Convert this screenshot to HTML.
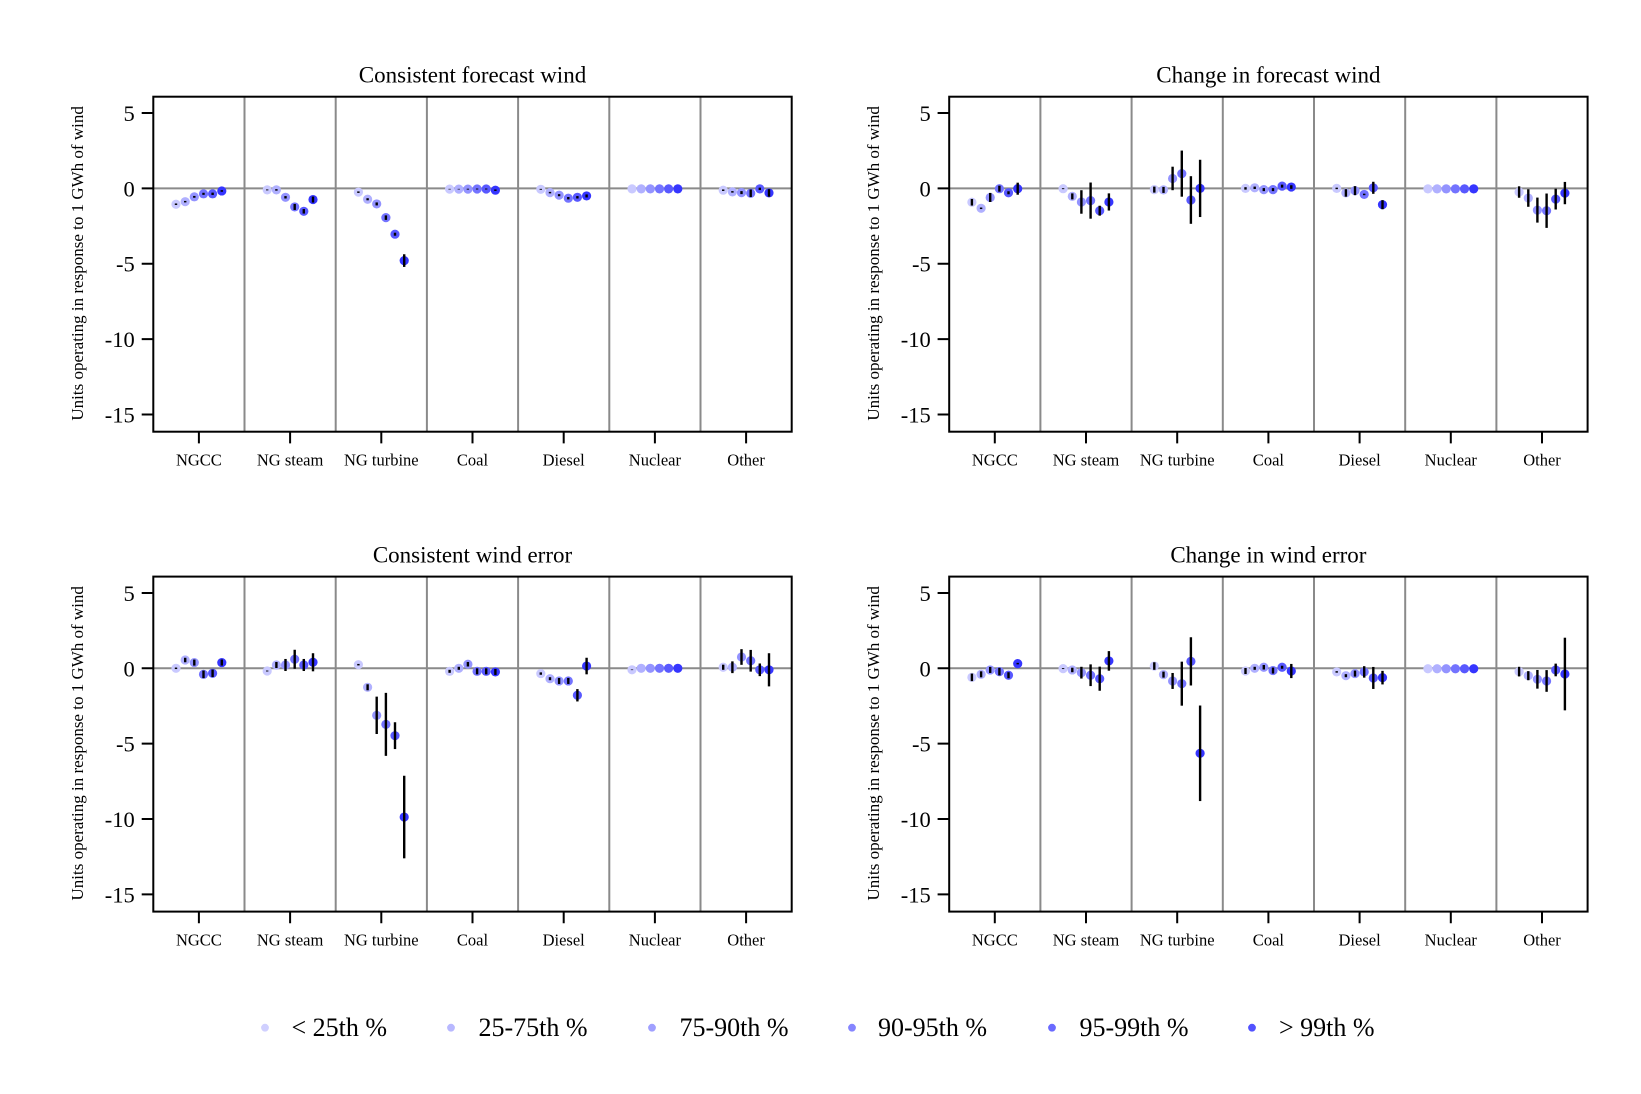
<!DOCTYPE html>
<html><head><meta charset="utf-8"><style>
html,body{margin:0;padding:0;background:#fff;}
svg{display:block;}
text{font-family:"Liberation Serif","Times New Roman",serif;fill:#000;}
.c1{fill:#c9c9ff}.c2{fill:#b0b0ff}.c3{fill:#9393ff}.c4{fill:#7373ff}.c5{fill:#5858ff}.c6{fill:#3535ff}
.yt{font-size:22.5px;text-anchor:end}
.xt{font-size:16.5px;text-anchor:middle}
.ti{font-size:23px;text-anchor:middle}
.yl{font-size:17px;text-anchor:middle}
.lg{font-size:26px}
</style></head><body>
<svg width="1641" height="1094" viewBox="0 0 1641 1094" xmlns="http://www.w3.org/2000/svg">
<rect width="1641" height="1094" fill="#fff"/>
<defs>
<g id="grid">
<path d="M0 0H638.4M91.2 -91.7V243.3M182.4 -91.7V243.3M273.6 -91.7V243.3M364.8 -91.7V243.3M456 -91.7V243.3M547.2 -91.7V243.3" stroke="#8a8a8a" stroke-width="2" fill="none"/>
</g>
<g id="box">
<rect x="0" y="-91.7" width="638.4" height="335" fill="none" stroke="#000" stroke-width="2"/>
<path d="M-11.6 -75.35H0M-11.6 0H0M-11.6 75.35H0M-11.6 150.7H0M-11.6 226.05H0M45.6 243.3V255M136.8 243.3V255M228 243.3V255M319.2 243.3V255M410.4 243.3V255M501.6 243.3V255M592.8 243.3V255" stroke="#000" stroke-width="2" fill="none"/>
</g>
</defs>

<!-- Panel 1 -->
<g transform="translate(153.3,188.4)">
<use href="#grid"/>
<g transform="scale(1,-15.07)">
<ellipse class="c1" cx="22.7" cy="-1.05" rx="4.6" ry="0.305"/><ellipse class="c2" cx="31.9" cy="-0.88" rx="4.6" ry="0.305"/><ellipse class="c3" cx="41.0" cy="-0.56" rx="4.6" ry="0.305"/><ellipse class="c4" cx="50.2" cy="-0.36" rx="4.6" ry="0.305"/><ellipse class="c5" cx="59.3" cy="-0.36" rx="4.6" ry="0.305"/><ellipse class="c6" cx="68.5" cy="-0.17" rx="4.6" ry="0.305"/>
<ellipse class="c1" cx="113.9" cy="-0.1" rx="4.6" ry="0.305"/><ellipse class="c2" cx="123.1" cy="-0.1" rx="4.6" ry="0.305"/><ellipse class="c3" cx="132.2" cy="-0.59" rx="4.6" ry="0.305"/><ellipse class="c4" cx="141.4" cy="-1.23" rx="4.6" ry="0.305"/><ellipse class="c5" cx="150.5" cy="-1.52" rx="4.6" ry="0.305"/><ellipse class="c6" cx="159.7" cy="-0.74" rx="4.6" ry="0.305"/>
<ellipse class="c1" cx="205.1" cy="-0.25" rx="4.6" ry="0.305"/><ellipse class="c2" cx="214.3" cy="-0.72" rx="4.6" ry="0.305"/><ellipse class="c3" cx="223.4" cy="-1.03" rx="4.6" ry="0.305"/><ellipse class="c4" cx="232.6" cy="-1.94" rx="4.6" ry="0.305"/><ellipse class="c5" cx="241.7" cy="-3.04" rx="4.6" ry="0.305"/><ellipse class="c6" cx="250.9" cy="-4.79" rx="4.6" ry="0.305"/>
<ellipse class="c1" cx="296.3" cy="-0.05" rx="4.6" ry="0.305"/><ellipse class="c2" cx="305.5" cy="-0.05" rx="4.6" ry="0.305"/><ellipse class="c3" cx="314.6" cy="-0.05" rx="4.6" ry="0.305"/><ellipse class="c4" cx="323.8" cy="-0.04" rx="4.6" ry="0.305"/><ellipse class="c5" cx="332.9" cy="-0.04" rx="4.6" ry="0.305"/><ellipse class="c6" cx="342.1" cy="-0.12" rx="4.6" ry="0.305"/>
<ellipse class="c1" cx="387.5" cy="-0.06" rx="4.6" ry="0.305"/><ellipse class="c2" cx="396.7" cy="-0.28" rx="4.6" ry="0.305"/><ellipse class="c3" cx="405.8" cy="-0.45" rx="4.6" ry="0.305"/><ellipse class="c4" cx="415.0" cy="-0.65" rx="4.6" ry="0.305"/><ellipse class="c5" cx="424.1" cy="-0.59" rx="4.6" ry="0.305"/><ellipse class="c6" cx="433.3" cy="-0.5" rx="4.6" ry="0.305"/>
<ellipse class="c1" cx="478.7" cy="-0.03" rx="4.6" ry="0.305"/><ellipse class="c2" cx="487.9" cy="-0.03" rx="4.6" ry="0.305"/><ellipse class="c3" cx="497.0" cy="-0.03" rx="4.6" ry="0.305"/><ellipse class="c4" cx="506.2" cy="-0.03" rx="4.6" ry="0.305"/><ellipse class="c5" cx="515.3" cy="-0.03" rx="4.6" ry="0.305"/><ellipse class="c6" cx="524.5" cy="-0.03" rx="4.6" ry="0.305"/>
<ellipse class="c1" cx="569.9" cy="-0.12" rx="4.6" ry="0.305"/><ellipse class="c2" cx="579.1" cy="-0.23" rx="4.6" ry="0.305"/><ellipse class="c3" cx="588.2" cy="-0.28" rx="4.6" ry="0.305"/><ellipse class="c4" cx="597.4" cy="-0.32" rx="4.6" ry="0.305"/><ellipse class="c5" cx="606.5" cy="-0.03" rx="4.6" ry="0.305"/><ellipse class="c6" cx="615.7" cy="-0.3" rx="4.6" ry="0.305"/>
<g fill="#000">
<rect x="21.5" y="-1.10" width="2.4" height="0.10"/><rect x="30.7" y="-0.93" width="2.4" height="0.10"/><rect x="39.8" y="-0.62" width="2.4" height="0.12"/><rect x="49.0" y="-0.43" width="2.4" height="0.14"/><rect x="58.1" y="-0.44" width="2.4" height="0.16"/><rect x="67.3" y="-0.22" width="2.4" height="0.10"/>
<rect x="112.7" y="-0.13" width="2.4" height="0.06"/><rect x="121.9" y="-0.15" width="2.4" height="0.10"/><rect x="131.0" y="-0.67" width="2.4" height="0.16"/><rect x="140.2" y="-1.43" width="2.4" height="0.4"/><rect x="149.3" y="-1.67" width="2.4" height="0.3"/><rect x="158.5" y="-0.94" width="2.4" height="0.4"/>
<rect x="203.9" y="-0.30" width="2.4" height="0.1"/><rect x="213.1" y="-0.79" width="2.4" height="0.14"/><rect x="222.2" y="-1.13" width="2.4" height="0.2"/><rect x="231.4" y="-2.09" width="2.4" height="0.3"/><rect x="240.5" y="-3.14" width="2.4" height="0.2"/><rect x="249.7" y="-5.21" width="2.4" height="0.84"/>
<rect x="295.1" y="-0.07" width="2.4" height="0.04"/><rect x="304.3" y="-0.07" width="2.4" height="0.04"/><rect x="313.4" y="-0.08" width="2.4" height="0.06"/><rect x="322.6" y="-0.07" width="2.4" height="0.06"/><rect x="331.7" y="-0.07" width="2.4" height="0.06"/><rect x="340.9" y="-0.17" width="2.4" height="0.1"/>
<rect x="386.3" y="-0.09" width="2.4" height="0.06"/><rect x="395.5" y="-0.33" width="2.4" height="0.1"/><rect x="404.6" y="-0.52" width="2.4" height="0.14"/><rect x="413.8" y="-0.73" width="2.4" height="0.16"/><rect x="422.9" y="-0.67" width="2.4" height="0.16"/><rect x="432.1" y="-0.6" width="2.4" height="0.2"/>
<rect x="568.7" y="-0.17" width="2.4" height="0.1"/><rect x="577.9" y="-0.28" width="2.4" height="0.1"/><rect x="587.0" y="-0.38" width="2.4" height="0.2"/><rect x="596.2" y="-0.57" width="2.4" height="0.5"/><rect x="605.3" y="-0.11" width="2.4" height="0.16"/><rect x="614.5" y="-0.55" width="2.4" height="0.5"/>
</g>
</g>
<use href="#box"/>
<text class="yt" x="-18.5" y="-67.35">5</text><text class="yt" x="-18.5" y="8">0</text><text class="yt" x="-18.5" y="83.35">-5</text><text class="yt" x="-18.5" y="158.7">-10</text><text class="yt" x="-18.5" y="234.05">-15</text>
<text class="xt" x="45.6" y="277.3">NGCC</text><text class="xt" x="136.8" y="277.3">NG steam</text><text class="xt" x="228" y="277.3">NG turbine</text><text class="xt" x="319.2" y="277.3">Coal</text><text class="xt" x="410.4" y="277.3">Diesel</text><text class="xt" x="501.6" y="277.3">Nuclear</text><text class="xt" x="592.8" y="277.3">Other</text>
<text class="ti" x="319.2" y="-105.9">Consistent forecast wind</text>
<text class="yl" transform="translate(-70.3,75) rotate(-90)">Units operating in response to 1 GWh of wind</text>
</g>

<!-- Panel 2 -->
<g transform="translate(949.2,188.4)">
<use href="#grid"/>
<g transform="scale(1,-15.07)">
<ellipse class="c1" cx="22.7" cy="-0.92" rx="4.6" ry="0.305"/><ellipse class="c2" cx="31.9" cy="-1.32" rx="4.6" ry="0.305"/><ellipse class="c3" cx="41.0" cy="-0.6" rx="4.6" ry="0.305"/><ellipse class="c4" cx="50.2" cy="-0.02" rx="4.6" ry="0.305"/><ellipse class="c5" cx="59.3" cy="-0.29" rx="4.6" ry="0.305"/><ellipse class="c6" cx="68.5" cy="-0.02" rx="4.6" ry="0.305"/>
<ellipse class="c1" cx="113.9" cy="-0.02" rx="4.6" ry="0.305"/><ellipse class="c2" cx="123.1" cy="-0.53" rx="4.6" ry="0.305"/><ellipse class="c3" cx="132.2" cy="-0.9" rx="4.6" ry="0.305"/><ellipse class="c4" cx="141.4" cy="-0.81" rx="4.6" ry="0.305"/><ellipse class="c5" cx="150.5" cy="-1.48" rx="4.6" ry="0.305"/><ellipse class="c6" cx="159.7" cy="-0.9" rx="4.6" ry="0.305"/>
<ellipse class="c1" cx="205.1" cy="-0.08" rx="4.6" ry="0.305"/><ellipse class="c2" cx="214.3" cy="-0.1" rx="4.6" ry="0.305"/><ellipse class="c3" cx="223.4" cy="0.66" rx="4.6" ry="0.305"/><ellipse class="c4" cx="232.6" cy="0.98" rx="4.6" ry="0.305"/><ellipse class="c5" cx="241.7" cy="-0.77" rx="4.6" ry="0.305"/><ellipse class="c6" cx="250.9" cy="0" rx="4.6" ry="0.305"/>
<ellipse class="c1" cx="296.3" cy="0" rx="4.6" ry="0.305"/><ellipse class="c2" cx="305.5" cy="0.04" rx="4.6" ry="0.305"/><ellipse class="c3" cx="314.6" cy="-0.08" rx="4.6" ry="0.305"/><ellipse class="c4" cx="323.8" cy="-0.08" rx="4.6" ry="0.305"/><ellipse class="c5" cx="332.9" cy="0.15" rx="4.6" ry="0.305"/><ellipse class="c6" cx="342.1" cy="0.09" rx="4.6" ry="0.305"/>
<ellipse class="c1" cx="387.5" cy="0" rx="4.6" ry="0.305"/><ellipse class="c2" cx="396.7" cy="-0.3" rx="4.6" ry="0.305"/><ellipse class="c3" cx="405.8" cy="-0.15" rx="4.6" ry="0.305"/><ellipse class="c4" cx="415.0" cy="-0.4" rx="4.6" ry="0.305"/><ellipse class="c5" cx="424.1" cy="0.04" rx="4.6" ry="0.305"/><ellipse class="c6" cx="433.3" cy="-1.08" rx="4.6" ry="0.305"/>
<ellipse class="c1" cx="478.7" cy="-0.03" rx="4.6" ry="0.305"/><ellipse class="c2" cx="487.9" cy="-0.03" rx="4.6" ry="0.305"/><ellipse class="c3" cx="497.0" cy="-0.03" rx="4.6" ry="0.305"/><ellipse class="c4" cx="506.2" cy="-0.03" rx="4.6" ry="0.305"/><ellipse class="c5" cx="515.3" cy="-0.03" rx="4.6" ry="0.305"/><ellipse class="c6" cx="524.5" cy="-0.03" rx="4.6" ry="0.305"/>
<ellipse class="c1" cx="569.9" cy="-0.24" rx="4.6" ry="0.305"/><ellipse class="c2" cx="579.1" cy="-0.64" rx="4.6" ry="0.305"/><ellipse class="c3" cx="588.2" cy="-1.44" rx="4.6" ry="0.305"/><ellipse class="c4" cx="597.4" cy="-1.48" rx="4.6" ry="0.305"/><ellipse class="c5" cx="606.5" cy="-0.71" rx="4.6" ry="0.305"/><ellipse class="c6" cx="615.7" cy="-0.31" rx="4.6" ry="0.305"/>
<g fill="#000">
<rect x="21.5" y="-1.14" width="2.4" height="0.44"/><rect x="30.7" y="-1.37" width="2.4" height="0.1"/><rect x="39.8" y="-0.9" width="2.4" height="0.6"/><rect x="49.0" y="-0.22" width="2.4" height="0.4"/><rect x="58.1" y="-0.39" width="2.4" height="0.2"/><rect x="67.3" y="-0.42" width="2.4" height="0.8"/>
<rect x="112.7" y="-0.05" width="2.4" height="0.06"/><rect x="121.9" y="-0.73" width="2.4" height="0.4"/><rect x="131.0" y="-1.68" width="2.4" height="1.56"/><rect x="140.2" y="-2.01" width="2.4" height="2.4"/><rect x="149.3" y="-1.81" width="2.4" height="0.66"/><rect x="158.5" y="-1.47" width="2.4" height="1.14"/>
<rect x="203.9" y="-0.28" width="2.4" height="0.4"/><rect x="213.1" y="-0.3" width="2.4" height="0.4"/><rect x="222.2" y="-0.12" width="2.4" height="1.56"/><rect x="231.4" y="-0.55" width="2.4" height="3.06"/><rect x="240.5" y="-2.35" width="2.4" height="3.16"/><rect x="249.7" y="-1.9" width="2.4" height="3.8"/>
<rect x="295.1" y="-0.08" width="2.4" height="0.16"/><rect x="304.3" y="-0.04" width="2.4" height="0.16"/><rect x="313.4" y="-0.18" width="2.4" height="0.2"/><rect x="322.6" y="-0.18" width="2.4" height="0.2"/><rect x="331.7" y="0.05" width="2.4" height="0.2"/><rect x="340.9" y="-0.03" width="2.4" height="0.24"/>
<rect x="386.3" y="-0.05" width="2.4" height="0.1"/><rect x="395.5" y="-0.55" width="2.4" height="0.5"/><rect x="404.6" y="-0.45" width="2.4" height="0.6"/><rect x="413.8" y="-0.45" width="2.4" height="0.1"/><rect x="422.9" y="-0.36" width="2.4" height="0.8"/><rect x="432.1" y="-1.38" width="2.4" height="0.6"/>
<rect x="568.7" y="-0.62" width="2.4" height="0.76"/><rect x="577.9" y="-1.22" width="2.4" height="1.16"/><rect x="587.0" y="-2.27" width="2.4" height="1.66"/><rect x="596.2" y="-2.62" width="2.4" height="2.28"/><rect x="605.3" y="-1.4" width="2.4" height="1.38"/><rect x="614.5" y="-1.05" width="2.4" height="1.48"/>
</g>
</g>
<use href="#box"/>
<text class="yt" x="-18.5" y="-67.35">5</text><text class="yt" x="-18.5" y="8">0</text><text class="yt" x="-18.5" y="83.35">-5</text><text class="yt" x="-18.5" y="158.7">-10</text><text class="yt" x="-18.5" y="234.05">-15</text>
<text class="xt" x="45.6" y="277.3">NGCC</text><text class="xt" x="136.8" y="277.3">NG steam</text><text class="xt" x="228" y="277.3">NG turbine</text><text class="xt" x="319.2" y="277.3">Coal</text><text class="xt" x="410.4" y="277.3">Diesel</text><text class="xt" x="501.6" y="277.3">Nuclear</text><text class="xt" x="592.8" y="277.3">Other</text>
<text class="ti" x="319.2" y="-105.9">Change in forecast wind</text>
<text class="yl" transform="translate(-70.3,75) rotate(-90)">Units operating in response to 1 GWh of wind</text>
</g>

<!-- Panel 3 -->
<g transform="translate(153.3,668.3)">
<use href="#grid"/>
<g transform="scale(1,-15.07)">
<ellipse class="c1" cx="22.7" cy="0" rx="4.6" ry="0.305"/><ellipse class="c2" cx="31.9" cy="0.55" rx="4.6" ry="0.305"/><ellipse class="c3" cx="41.0" cy="0.38" rx="4.6" ry="0.305"/><ellipse class="c4" cx="50.2" cy="-0.4" rx="4.6" ry="0.305"/><ellipse class="c5" cx="59.3" cy="-0.33" rx="4.6" ry="0.305"/><ellipse class="c6" cx="68.5" cy="0.38" rx="4.6" ry="0.305"/>
<ellipse class="c1" cx="113.9" cy="-0.18" rx="4.6" ry="0.305"/><ellipse class="c2" cx="123.1" cy="0.22" rx="4.6" ry="0.305"/><ellipse class="c3" cx="132.2" cy="0.22" rx="4.6" ry="0.305"/><ellipse class="c4" cx="141.4" cy="0.6" rx="4.6" ry="0.305"/><ellipse class="c5" cx="150.5" cy="0.22" rx="4.6" ry="0.305"/><ellipse class="c6" cx="159.7" cy="0.4" rx="4.6" ry="0.305"/>
<ellipse class="c1" cx="205.1" cy="0.24" rx="4.6" ry="0.305"/><ellipse class="c2" cx="214.3" cy="-1.26" rx="4.6" ry="0.305"/><ellipse class="c3" cx="223.4" cy="-3.12" rx="4.6" ry="0.305"/><ellipse class="c4" cx="232.6" cy="-3.72" rx="4.6" ry="0.305"/><ellipse class="c5" cx="241.7" cy="-4.47" rx="4.6" ry="0.305"/><ellipse class="c6" cx="250.9" cy="-9.87" rx="4.6" ry="0.305"/>
<ellipse class="c1" cx="296.3" cy="-0.2" rx="4.6" ry="0.305"/><ellipse class="c2" cx="305.5" cy="0" rx="4.6" ry="0.305"/><ellipse class="c3" cx="314.6" cy="0.27" rx="4.6" ry="0.305"/><ellipse class="c4" cx="323.8" cy="-0.2" rx="4.6" ry="0.305"/><ellipse class="c5" cx="332.9" cy="-0.2" rx="4.6" ry="0.305"/><ellipse class="c6" cx="342.1" cy="-0.24" rx="4.6" ry="0.305"/>
<ellipse class="c1" cx="387.5" cy="-0.35" rx="4.6" ry="0.305"/><ellipse class="c2" cx="396.7" cy="-0.69" rx="4.6" ry="0.305"/><ellipse class="c3" cx="405.8" cy="-0.84" rx="4.6" ry="0.305"/><ellipse class="c4" cx="415.0" cy="-0.84" rx="4.6" ry="0.305"/><ellipse class="c5" cx="424.1" cy="-1.79" rx="4.6" ry="0.305"/><ellipse class="c6" cx="433.3" cy="0.15" rx="4.6" ry="0.305"/>
<ellipse class="c1" cx="478.7" cy="-0.1" rx="4.6" ry="0.305"/><ellipse class="c2" cx="487.9" cy="0" rx="4.6" ry="0.305"/><ellipse class="c3" cx="497.0" cy="0" rx="4.6" ry="0.305"/><ellipse class="c4" cx="506.2" cy="0" rx="4.6" ry="0.305"/><ellipse class="c5" cx="515.3" cy="0" rx="4.6" ry="0.305"/><ellipse class="c6" cx="524.5" cy="0" rx="4.6" ry="0.305"/>
<ellipse class="c1" cx="569.9" cy="0.07" rx="4.6" ry="0.305"/><ellipse class="c2" cx="579.1" cy="0.07" rx="4.6" ry="0.305"/><ellipse class="c3" cx="588.2" cy="0.75" rx="4.6" ry="0.305"/><ellipse class="c4" cx="597.4" cy="0.5" rx="4.6" ry="0.305"/><ellipse class="c5" cx="606.5" cy="-0.1" rx="4.6" ry="0.305"/><ellipse class="c6" cx="615.7" cy="-0.1" rx="4.6" ry="0.305"/>
<g fill="#000">
<rect x="21.5" y="-0.05" width="2.4" height="0.1"/><rect x="30.7" y="0.4" width="2.4" height="0.3"/><rect x="39.8" y="0.18" width="2.4" height="0.4"/><rect x="49.0" y="-0.65" width="2.4" height="0.5"/><rect x="58.1" y="-0.58" width="2.4" height="0.5"/><rect x="67.3" y="0.18" width="2.4" height="0.4"/>
<rect x="112.7" y="-0.21" width="2.4" height="0.06"/><rect x="121.9" y="0.02" width="2.4" height="0.4"/><rect x="131.0" y="-0.18" width="2.4" height="0.8"/><rect x="140.2" y="-0.03" width="2.4" height="1.26"/><rect x="149.3" y="-0.18" width="2.4" height="0.8"/><rect x="158.5" y="-0.2" width="2.4" height="1.2"/>
<rect x="203.9" y="0.19" width="2.4" height="0.1"/><rect x="213.1" y="-1.46" width="2.4" height="0.4"/><rect x="222.2" y="-4.36" width="2.4" height="2.48"/><rect x="231.4" y="-5.81" width="2.4" height="4.18"/><rect x="240.5" y="-5.36" width="2.4" height="1.78"/><rect x="249.7" y="-12.61" width="2.4" height="5.48"/>
<rect x="295.1" y="-0.3" width="2.4" height="0.2"/><rect x="304.3" y="-0.1" width="2.4" height="0.2"/><rect x="313.4" y="0.12" width="2.4" height="0.3"/><rect x="322.6" y="-0.4" width="2.4" height="0.4"/><rect x="331.7" y="-0.4" width="2.4" height="0.4"/><rect x="340.9" y="-0.44" width="2.4" height="0.4"/>
<rect x="386.3" y="-0.43" width="2.4" height="0.16"/><rect x="395.5" y="-0.79" width="2.4" height="0.2"/><rect x="404.6" y="-1.04" width="2.4" height="0.4"/><rect x="413.8" y="-1.04" width="2.4" height="0.4"/><rect x="422.9" y="-2.2" width="2.4" height="0.82"/><rect x="432.1" y="-0.4" width="2.4" height="1.1"/>
<rect x="477.5" y="-0.12" width="2.4" height="0.04"/>
<rect x="568.7" y="-0.1" width="2.4" height="0.34"/><rect x="577.9" y="-0.32" width="2.4" height="0.78"/><rect x="587.0" y="0.23" width="2.4" height="1.04"/><rect x="596.2" y="-0.22" width="2.4" height="1.44"/><rect x="605.3" y="-0.52" width="2.4" height="0.84"/><rect x="614.5" y="-1.2" width="2.4" height="2.2"/>
</g>
</g>
<use href="#box"/>
<text class="yt" x="-18.5" y="-67.35">5</text><text class="yt" x="-18.5" y="8">0</text><text class="yt" x="-18.5" y="83.35">-5</text><text class="yt" x="-18.5" y="158.7">-10</text><text class="yt" x="-18.5" y="234.05">-15</text>
<text class="xt" x="45.6" y="277.3">NGCC</text><text class="xt" x="136.8" y="277.3">NG steam</text><text class="xt" x="228" y="277.3">NG turbine</text><text class="xt" x="319.2" y="277.3">Coal</text><text class="xt" x="410.4" y="277.3">Diesel</text><text class="xt" x="501.6" y="277.3">Nuclear</text><text class="xt" x="592.8" y="277.3">Other</text>
<text class="ti" x="319.2" y="-105.9">Consistent wind error</text>
<text class="yl" transform="translate(-70.3,75) rotate(-90)">Units operating in response to 1 GWh of wind</text>
</g>

<!-- Panel 4 -->
<g transform="translate(949.2,668.3)">
<use href="#grid"/>
<g transform="scale(1,-15.07)">
<ellipse class="c1" cx="22.7" cy="-0.6" rx="4.6" ry="0.305"/><ellipse class="c2" cx="31.9" cy="-0.4" rx="4.6" ry="0.305"/><ellipse class="c3" cx="41.0" cy="-0.11" rx="4.6" ry="0.305"/><ellipse class="c4" cx="50.2" cy="-0.22" rx="4.6" ry="0.305"/><ellipse class="c5" cx="59.3" cy="-0.46" rx="4.6" ry="0.305"/><ellipse class="c6" cx="68.5" cy="0.31" rx="4.6" ry="0.305"/>
<ellipse class="c1" cx="113.9" cy="-0.02" rx="4.6" ry="0.305"/><ellipse class="c2" cx="123.1" cy="-0.11" rx="4.6" ry="0.305"/><ellipse class="c3" cx="132.2" cy="-0.29" rx="4.6" ry="0.305"/><ellipse class="c4" cx="141.4" cy="-0.46" rx="4.6" ry="0.305"/><ellipse class="c5" cx="150.5" cy="-0.69" rx="4.6" ry="0.305"/><ellipse class="c6" cx="159.7" cy="0.49" rx="4.6" ry="0.305"/>
<ellipse class="c1" cx="205.1" cy="0.15" rx="4.6" ry="0.305"/><ellipse class="c2" cx="214.3" cy="-0.42" rx="4.6" ry="0.305"/><ellipse class="c3" cx="223.4" cy="-0.84" rx="4.6" ry="0.305"/><ellipse class="c4" cx="232.6" cy="-1.02" rx="4.6" ry="0.305"/><ellipse class="c5" cx="241.7" cy="0.46" rx="4.6" ry="0.305"/><ellipse class="c6" cx="250.9" cy="-5.64" rx="4.6" ry="0.305"/>
<ellipse class="c1" cx="296.3" cy="-0.18" rx="4.6" ry="0.305"/><ellipse class="c2" cx="305.5" cy="0" rx="4.6" ry="0.305"/><ellipse class="c3" cx="314.6" cy="0.07" rx="4.6" ry="0.305"/><ellipse class="c4" cx="323.8" cy="-0.15" rx="4.6" ry="0.305"/><ellipse class="c5" cx="332.9" cy="0.07" rx="4.6" ry="0.305"/><ellipse class="c6" cx="342.1" cy="-0.18" rx="4.6" ry="0.305"/>
<ellipse class="c1" cx="387.5" cy="-0.24" rx="4.6" ry="0.305"/><ellipse class="c2" cx="396.7" cy="-0.49" rx="4.6" ry="0.305"/><ellipse class="c3" cx="405.8" cy="-0.35" rx="4.6" ry="0.305"/><ellipse class="c4" cx="415.0" cy="-0.24" rx="4.6" ry="0.305"/><ellipse class="c5" cx="424.1" cy="-0.64" rx="4.6" ry="0.305"/><ellipse class="c6" cx="433.3" cy="-0.62" rx="4.6" ry="0.305"/>
<ellipse class="c1" cx="478.7" cy="-0.03" rx="4.6" ry="0.305"/><ellipse class="c2" cx="487.9" cy="-0.03" rx="4.6" ry="0.305"/><ellipse class="c3" cx="497.0" cy="-0.03" rx="4.6" ry="0.305"/><ellipse class="c4" cx="506.2" cy="-0.03" rx="4.6" ry="0.305"/><ellipse class="c5" cx="515.3" cy="-0.03" rx="4.6" ry="0.305"/><ellipse class="c6" cx="524.5" cy="-0.03" rx="4.6" ry="0.305"/>
<ellipse class="c1" cx="569.9" cy="-0.22" rx="4.6" ry="0.305"/><ellipse class="c2" cx="579.1" cy="-0.49" rx="4.6" ry="0.305"/><ellipse class="c3" cx="588.2" cy="-0.73" rx="4.6" ry="0.305"/><ellipse class="c4" cx="597.4" cy="-0.84" rx="4.6" ry="0.305"/><ellipse class="c5" cx="606.5" cy="-0.11" rx="4.6" ry="0.305"/><ellipse class="c6" cx="615.7" cy="-0.38" rx="4.6" ry="0.305"/>
<g fill="#000">
<rect x="21.5" y="-0.85" width="2.4" height="0.5"/><rect x="30.7" y="-0.6" width="2.4" height="0.4"/><rect x="39.8" y="-0.31" width="2.4" height="0.4"/><rect x="49.0" y="-0.47" width="2.4" height="0.5"/><rect x="58.1" y="-0.66" width="2.4" height="0.4"/><rect x="67.3" y="0.26" width="2.4" height="0.1"/>
<rect x="112.7" y="-0.05" width="2.4" height="0.06"/><rect x="121.9" y="-0.26" width="2.4" height="0.3"/><rect x="131.0" y="-0.68" width="2.4" height="0.78"/><rect x="140.2" y="-1.18" width="2.4" height="1.44"/><rect x="149.3" y="-1.49" width="2.4" height="1.6"/><rect x="158.5" y="-0.16" width="2.4" height="1.3"/>
<rect x="203.9" y="-0.1" width="2.4" height="0.5"/><rect x="213.1" y="-0.62" width="2.4" height="0.4"/><rect x="222.2" y="-1.37" width="2.4" height="1.06"/><rect x="231.4" y="-2.48" width="2.4" height="2.92"/><rect x="240.5" y="-1.14" width="2.4" height="3.2"/><rect x="249.7" y="-8.81" width="2.4" height="6.34"/>
<rect x="295.1" y="-0.38" width="2.4" height="0.4"/><rect x="304.3" y="-0.1" width="2.4" height="0.2"/><rect x="313.4" y="-0.08" width="2.4" height="0.3"/><rect x="322.6" y="-0.35" width="2.4" height="0.4"/><rect x="331.7" y="-0.03" width="2.4" height="0.2"/><rect x="340.9" y="-0.65" width="2.4" height="0.94"/>
<rect x="386.3" y="-0.29" width="2.4" height="0.1"/><rect x="395.5" y="-0.59" width="2.4" height="0.2"/><rect x="404.6" y="-0.55" width="2.4" height="0.4"/><rect x="413.8" y="-0.62" width="2.4" height="0.76"/><rect x="422.9" y="-1.37" width="2.4" height="1.46"/><rect x="432.1" y="-1.07" width="2.4" height="0.9"/>
<rect x="568.7" y="-0.54" width="2.4" height="0.64"/><rect x="577.9" y="-0.79" width="2.4" height="0.6"/><rect x="587.0" y="-1.35" width="2.4" height="1.24"/><rect x="596.2" y="-1.56" width="2.4" height="1.44"/><rect x="605.3" y="-0.53" width="2.4" height="0.84"/><rect x="614.5" y="-2.79" width="2.4" height="4.82"/>
</g>
</g>
<use href="#box"/>
<text class="yt" x="-18.5" y="-67.35">5</text><text class="yt" x="-18.5" y="8">0</text><text class="yt" x="-18.5" y="83.35">-5</text><text class="yt" x="-18.5" y="158.7">-10</text><text class="yt" x="-18.5" y="234.05">-15</text>
<text class="xt" x="45.6" y="277.3">NGCC</text><text class="xt" x="136.8" y="277.3">NG steam</text><text class="xt" x="228" y="277.3">NG turbine</text><text class="xt" x="319.2" y="277.3">Coal</text><text class="xt" x="410.4" y="277.3">Diesel</text><text class="xt" x="501.6" y="277.3">Nuclear</text><text class="xt" x="592.8" y="277.3">Other</text>
<text class="ti" x="319.2" y="-105.9">Change in wind error</text>
<text class="yl" transform="translate(-70.3,75) rotate(-90)">Units operating in response to 1 GWh of wind</text>
</g>

<!-- Legend -->
<circle cx="265" cy="1027.7" r="3.9" fill="#d0d0ff"/>
<text class="lg" x="291.5" y="1036">&lt; 25th %</text>
<circle cx="451" cy="1027.7" r="3.9" fill="#b8b8ff"/>
<text class="lg" x="478.5" y="1036">25-75th %</text>
<circle cx="652" cy="1027.7" r="3.9" fill="#a0a0ff"/>
<text class="lg" x="679.5" y="1036">75-90th %</text>
<circle cx="852" cy="1027.7" r="3.9" fill="#8585ff"/>
<text class="lg" x="878" y="1036">90-95th %</text>
<circle cx="1052" cy="1027.7" r="3.9" fill="#6a6aff"/>
<text class="lg" x="1079.5" y="1036">95-99th %</text>
<circle cx="1252" cy="1027.7" r="3.9" fill="#5252ff"/>
<text class="lg" x="1279" y="1036">&gt; 99th %</text>
</svg>
</body></html>
